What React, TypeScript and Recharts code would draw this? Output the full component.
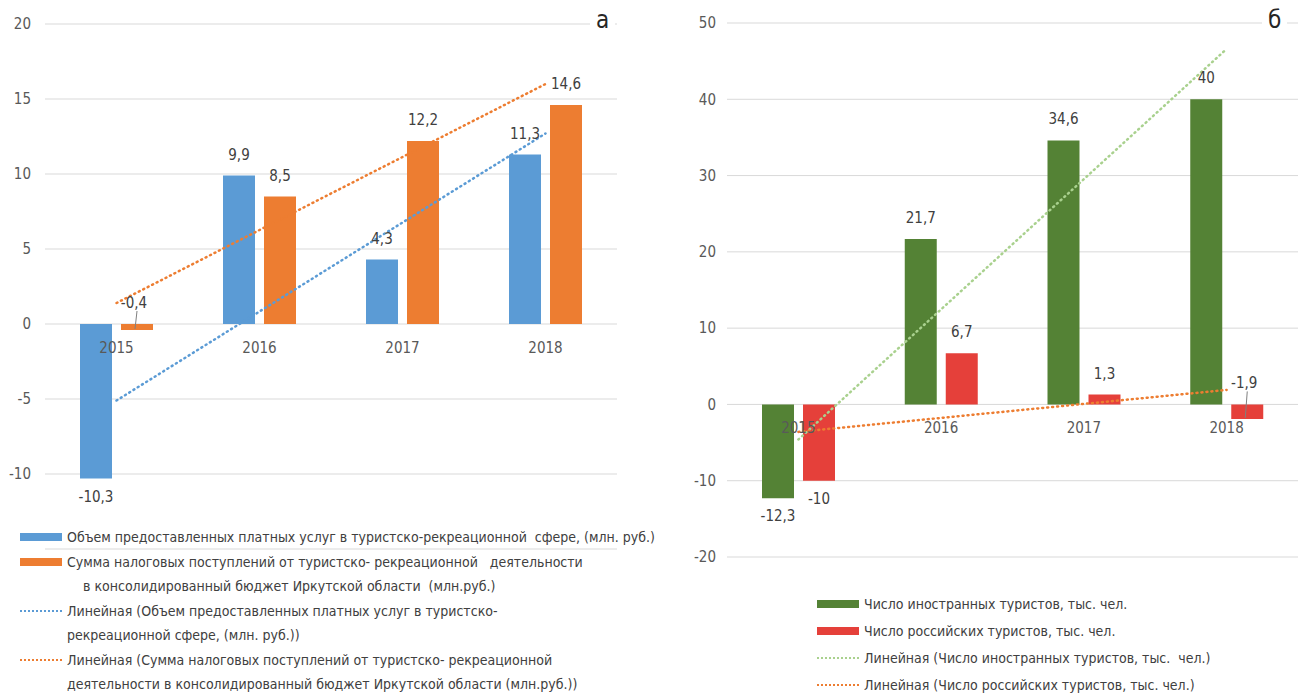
import React from "react"
import { Bar, CartesianGrid, ComposedChart, LabelList, Line, XAxis, YAxis } from "recharts"

const FONT = '"Liberation Sans Narrow", "DejaVu Sans Condensed", "Open Sans", sans-serif'

const years = ["2015", "2016", "2017", "2018"]

// panel а
const paidServices = [-10.3, 9.9, 4.3, 11.3]
const taxRevenue = [-0.4, 8.5, 12.2, 14.6]
const paidServicesTrend = [-5.1, null, null, 12.7]
const taxRevenueTrend = [1.4, null, null, 16.0]
const ticksA = [-10, -5, 0, 5, 10, 15, 20]

// panel б
const foreignTourists = [-12.3, 21.7, 34.6, 40]
const russianTourists = [-10, 6.7, 1.3, -1.9]
const foreignTrend = [-4.6, null, null, 46.6]
const russianTrend = [-3.6, null, null, 1.9]
const ticksB = [-20, -10, 0, 10, 20, 30, 40, 50]

const BLUE = "#5b9bd5"
const ORANGE = "#ed7d31"
const GREEN = "#548235"
const RED = "#e5403a"
const LIGHT_GREEN = "#a9d18e"

const legendA = [
  { kind: "bar", color: BLUE, lines: ["Объем предоставленных платных услуг в туристско-рекреационной  сфере, (млн. руб.)"] },
  {
    kind: "bar",
    color: ORANGE,
    lines: ["Сумма налоговых поступлений от туристско- рекреационной   деятельности", "    в консолидированный бюджет Иркутской области  (млн.руб.)"],
  },
  { kind: "line", color: BLUE, lines: ["Линейная (Объем предоставленных платных услуг в туристско-", "рекреационной сфере, (млн. руб.))"] },
  {
    kind: "line",
    color: ORANGE,
    lines: ["Линейная (Сумма налоговых поступлений от туристско- рекреационной", "деятельности в консолидированный бюджет Иркутской области (млн.руб.))"],
  },
]

const legendB = [
  { kind: "bar", color: GREEN, lines: ["Число иностранных туристов, тыс. чел."] },
  { kind: "bar", color: RED, lines: ["Число российских туристов, тыс. чел."] },
  { kind: "line", color: LIGHT_GREEN, lines: ["Линейная (Число иностранных туристов, тыс.  чел.)"] },
  { kind: "line", color: ORANGE, lines: ["Линейная (Число российских туристов, тыс. чел.)"] },
]

const rowsA = years.map((year, i) => ({
  year,
  paid: paidServices[i],
  tax: taxRevenue[i],
  paidTrend: paidServicesTrend[i],
  taxTrend: taxRevenueTrend[i],
}))

const rowsB = years.map((year, i) => ({
  year,
  foreign: foreignTourists[i],
  russian: russianTourists[i],
  foreignTrend: foreignTrend[i],
  russianTrend: russianTrend[i],
}))

const fmt = (v: number) => String(v).replace(".", ",")

function ValueLabel(props: any) {
  const { x, y, width, height, value } = props
  const top = Math.min(y, y + height)
  const bottom = Math.max(y, y + height)
  const cx = x + width / 2
  const style = { fontFamily: FONT, fontSize: 15, fill: "#404040" }
  if (value >= 0) {
    return (
      <text x={cx} y={top - 16} textAnchor="middle" style={style}>
        {fmt(value)}
      </text>
    )
  }
  if (value > -3) {
    // small negative bar: label sits above the axis with a leader line
    return (
      <g>
        <line x1={cx} y1={top - 13} x2={cx - 2} y2={bottom - 1} stroke="#808080" strokeWidth={1} />
        <text x={cx - 3} y={top - 16} textAnchor="middle" style={style}>
          {fmt(value)}
        </text>
      </g>
    )
  }
  return (
    <text x={cx} y={bottom + 23} textAnchor="middle" style={style}>
      {fmt(value)}
    </text>
  )
}

function YearLabel(props: any) {
  const { x, y, index } = props
  return (
    <text x={x} y={y + 29} textAnchor="middle" style={{ fontFamily: FONT, fontSize: 15, fill: "#595959" }}>
      {years[index]}
    </text>
  )
}

const tickStyle = { fill: "#595959", fontSize: 15, fontFamily: FONT }

function Legend({ items, lineHeight }: { items: typeof legendA; lineHeight: number }) {
  return (
    <div style={{ fontFamily: FONT, fontSize: 14, color: "#404040" }}>
      {items.map((item, i) =>
        item.lines.map((text, j) => (
          <div key={`${i}-${j}`} style={{ display: "flex", alignItems: "center", height: lineHeight, whiteSpace: "pre" }}>
            <div style={{ width: 42, marginRight: 5, display: "flex", alignItems: "center" }}>
              {j === 0 &&
                (item.kind === "bar" ? (
                  <div style={{ width: 42, height: 8, background: item.color }} />
                ) : (
                  <div style={{ width: 42, borderTop: `2px dotted ${item.color}` }} />
                ))}
            </div>
            <span>{text}</span>
          </div>
        ))
      )}
    </div>
  )
}

export default function App() {
  return (
    <div style={{ position: "absolute", left: 0, top: 0, width: 1304, height: 694, background: "#fff", overflow: "hidden", fontFamily: FONT }}>
      <div style={{ position: "absolute", left: 0, top: 0 }}>
        <ComposedChart width={640} height={560} data={rowsA} margin={{ top: 24, right: 23, bottom: 11, left: 0 }} barSize={32} barGap={9}>
          <CartesianGrid horizontal vertical={false} stroke="#d9d9d9" />
          <XAxis dataKey="year" hide />
          <YAxis
            width={45}
            domain={[-15, 20]}
            ticks={ticksA}
            axisLine={false}
            tickLine={false}
            tickSize={0}
            tickMargin={14}
            tick={tickStyle}
          />
          <Bar dataKey="paid" fill={BLUE} isAnimationActive={false}>
            <LabelList dataKey="paid" content={ValueLabel} />
          </Bar>
          <Bar dataKey="tax" fill={ORANGE} isAnimationActive={false}>
            <LabelList dataKey="tax" content={ValueLabel} />
          </Bar>
          <Line dataKey={() => 0} stroke="none" dot={false} legendType="none" isAnimationActive={false}>
            <LabelList dataKey="year" content={YearLabel} />
          </Line>
          <Line dataKey="paidTrend" stroke={BLUE} strokeWidth={2.5} strokeDasharray="1 4" strokeLinecap="round" dot={false} connectNulls isAnimationActive={false} />
          <Line dataKey="taxTrend" stroke={ORANGE} strokeWidth={2.5} strokeDasharray="1 4" strokeLinecap="round" dot={false} connectNulls isAnimationActive={false} />
        </ComposedChart>
      </div>

      <div style={{ position: "absolute", left: 660, top: 0 }}>
        <ComposedChart width={640} height={570} data={rowsB} margin={{ top: 23, right: 2, bottom: 13, left: 0 }} barSize={32} barGap={9}>
          <CartesianGrid horizontal vertical={false} stroke="#d9d9d9" />
          <XAxis dataKey="year" hide />
          <YAxis
            width={67}
            domain={[-20, 50]}
            ticks={ticksB}
            axisLine={false}
            tickLine={false}
            tickSize={0}
            tickMargin={11}
            tick={tickStyle}
          />
          <Bar dataKey="foreign" fill={GREEN} isAnimationActive={false}>
            <LabelList dataKey="foreign" content={ValueLabel} />
          </Bar>
          <Bar dataKey="russian" fill={RED} isAnimationActive={false}>
            <LabelList dataKey="russian" content={ValueLabel} />
          </Bar>
          <Line dataKey={() => 0} stroke="none" dot={false} legendType="none" isAnimationActive={false}>
            <LabelList dataKey="year" content={YearLabel} />
          </Line>
          <Line dataKey="foreignTrend" stroke={LIGHT_GREEN} strokeWidth={2.5} strokeDasharray="1 4" strokeLinecap="round" dot={false} connectNulls isAnimationActive={false} />
          <Line dataKey="russianTrend" stroke={ORANGE} strokeWidth={2.5} strokeDasharray="1 4" strokeLinecap="round" dot={false} connectNulls isAnimationActive={false} />
        </ComposedChart>
      </div>

      <div style={{ position: "absolute", left: 590, top: 6, padding: "0 6px", background: "#fff", fontSize: 24, color: "#262626" }}>а</div>
      <div style={{ position: "absolute", left: 1262, top: 6, padding: "0 6px", background: "#fff", fontSize: 24, color: "#262626" }}>б</div>

      <div style={{ position: "absolute", left: 20, top: 525 }}>
        <Legend items={legendA} lineHeight={24.5} />
      </div>
      <div style={{ position: "absolute", left: 817, top: 590 }}>
        <Legend items={legendB} lineHeight={27} />
      </div>
    </div>
  )
}
